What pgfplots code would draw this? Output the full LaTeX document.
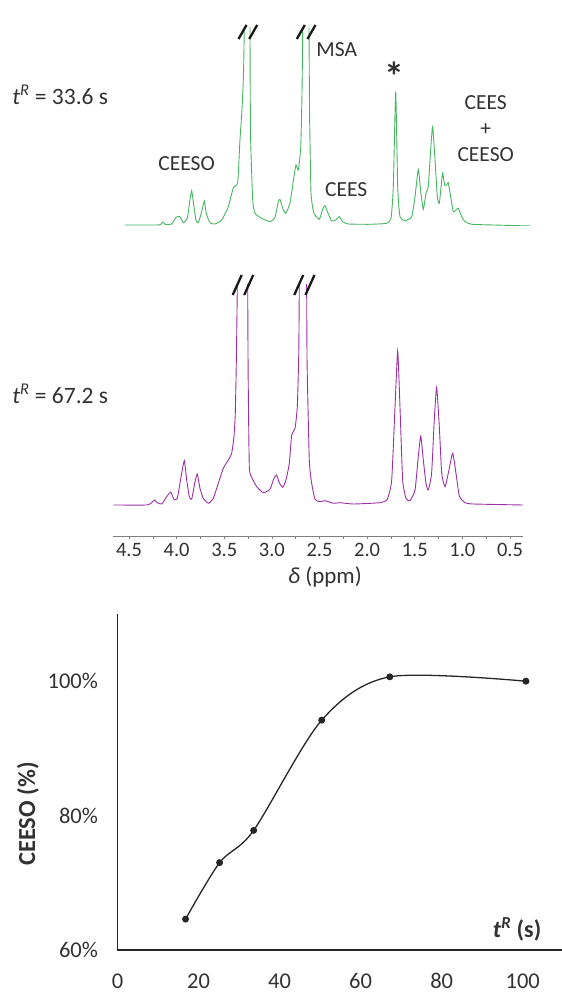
\documentclass[border=0pt]{standalone}
\usepackage{fontspec}
\setmainfont{Carlito}
\usepackage{pgfplots}
\pgfplotsset{compat=1.18}
\definecolor{nmrgreen}{RGB}{70,182,96}
\definecolor{nmrpurple}{RGB}{155,48,165}
\definecolor{txt}{RGB}{50,50,50}
\newcommand{\lbl}{\fontsize{21.5}{26}\selectfont}
\tikzset{brk/.style={line width=2.3pt, black!90}}

\begin{document}
\begin{tikzpicture}
\path[use as bounding box] (0pt,0pt) rectangle (562pt,994pt);

% t^R = 33.6 s spectrum
\begin{axis}[
  at={(125pt,768pt)}, anchor=south west,
  scale only axis, width=406pt, height=198pt,
  xmin=0.2795, xmax=4.542, x dir=reverse,
  ymin=-1, ymax=197,
  hide axis, clip mode=individual,
]
\addplot[nmrgreen, line width=0.9pt, smooth, tension=0.3] coordinates {
(4.542,0) (4.209,0) (4.167,0.5) (4.146,3) (4.122,0.7) (4.052,1) (4.007,7.7)
(3.965,8.3) (3.930,2.3) (3.888,6.7) (3.860,25) (3.842,34.3) (3.825,23.3)
(3.797,5) (3.772,2.3) (3.737,13.3) (3.709,24) (3.689,11.7) (3.650,2.3)
(3.597,1) (3.527,5) (3.457,18.3) (3.405,37.3) (3.359,42.3) (3.335,85)
(3.314,115) (3.298,150) (3.290,197) (3.284,300) (3.236,300) (3.230,197)
(3.224,90) (3.201,25) (3.177,11.7) (3.107,6.7) (3.020,3.3) (2.967,7.7)
(2.932,23.3) (2.915,25.7) (2.886,16.7) (2.855,11.7) (2.810,21.7) (2.768,48.3)
(2.747,60) (2.722,55) (2.697,78) (2.684,130) (2.676,197) (2.670,300)
(2.616,300) (2.610,197) (2.604,110) (2.589,31.7) (2.558,11.7) (2.502,5.7)
(2.467,15.7) (2.442,19.3) (2.417,13.3) (2.372,4) (2.330,5) (2.292,8.3)
(2.257,3.3) (2.198,1) (1.970,0.7) (1.795,1.7) (1.749,6.7) (1.725,38.3)
(1.700,133.3) (1.679,38.3) (1.655,8.3) (1.602,4.3) (1.532,8.3) (1.497,28.3)
(1.463,55.7) (1.437,33.3) (1.410,15.7) (1.382,31.7) (1.358,38.3) (1.333,75)
(1.312,98.3) (1.287,65) (1.263,28.3) (1.242,21.7) (1.224,38.3) (1.207,51.7)
(1.186,40) (1.165,40) (1.148,42.3) (1.123,28.3) (1.095,13.3) (1.067,15)
(1.043,16.7) (1.007,8.3) (0.972,3.3) (0.902,0.7) (0.675,0) (0.283,-1)
};
\node[font=\lbl, text=txt] at (axis cs:3.895,61) {CEESO};
\node[font=\lbl, text=txt] at (axis cs:2.319,175.7) {MSA};
\node[font=\lbl, text=txt] at (axis cs:2.219,35.3) {CEES};
\node[font=\bfseries\fontsize{40}{40}\selectfont, text=txt] at (axis cs:1.713,148.3) {*};
\node[font=\lbl, text=txt, align=center] at (axis cs:0.755,96.5) {CEES\\+\\CEESO};
\draw[brk] ([shift={(-4pt,-7pt)}]axis cs:3.308,193) -- ([shift={(4pt,7pt)}]axis cs:3.308,193);
\draw[brk] ([shift={(-4pt,-7pt)}]axis cs:3.196,193) -- ([shift={(4pt,7pt)}]axis cs:3.196,193);
\draw[brk] ([shift={(-4pt,-7pt)}]axis cs:2.696,193) -- ([shift={(4pt,7pt)}]axis cs:2.696,193);
\draw[brk] ([shift={(-4pt,-7pt)}]axis cs:2.584,193) -- ([shift={(4pt,7pt)}]axis cs:2.584,193);
\end{axis}

% t^R = 67.2 s spectrum with the ppm axis
\begin{axis}[
  at={(113pt,458pt)}, anchor=south west,
  scale only axis, width=410pt, height=251pt,
  xmin=0.3635, xmax=4.668, x dir=reverse,
  ymin=-31, ymax=220,
  axis x line=bottom, axis y line=none,
  axis line style={-, gray, line width=0.8pt},
  clip mode=individual,
  xtick={0.5,1,1.5,2,2.5,3,3.5,4,4.5},
  xticklabels={0.5,1.0,1.5,2.0,2.5,3.0,3.5,4.0,4.5},
  minor xtick={0.75,1.25,1.75,2.25,2.75,3.25,3.75,4.25},
  tick align=outside, major tick length=3pt, minor tick length=3pt,
  tick style={gray, line width=0.6pt},
  xticklabel style={font=\fontsize{20.5}{24}\selectfont, text=txt, yshift=-1pt},
  xlabel={\textit{δ} (ppm)},
  xlabel style={at={(axis description cs:0.517,-0.162)}, anchor=center, font=\fontsize{23}{26}\selectfont, text=txt},
]
\addplot[nmrpurple, line width=0.9pt, smooth, tension=0.3] coordinates {
(4.665,0) (4.314,0) (4.262,2.3) (4.234,5) (4.203,2.3) (4.157,1) (4.104,8.3)
(4.062,13) (4.028,5.7) (3.993,6.7) (3.947,31.7) (3.919,44.3) (3.894,25)
(3.867,8.3) (3.842,5.7) (3.807,23.3) (3.783,31) (3.755,16.7) (3.720,6.7)
(3.667,1.7) (3.615,6.7) (3.562,21.7) (3.510,36.7) (3.457,45) (3.422,51.7)
(3.398,68.3) (3.384,91.7) (3.372,150) (3.363,220) (3.357,320) (3.260,320)
(3.254,220) (3.249,130) (3.237,38.3) (3.212,27.7) (3.159,18.3) (3.090,12.3)
(3.020,15.7) (2.978,26.7) (2.950,30) (2.922,22.3) (2.886,17.7) (2.852,25)
(2.817,41.7) (2.792,70) (2.757,76.7) (2.733,98.3) (2.718,150) (2.712,220)
(2.707,320) (2.640,320) (2.635,220) (2.630,140) (2.607,45) (2.582,21.7)
(2.547,5.7) (2.495,3.3) (2.442,4.3) (2.355,1.7) (2.285,2.3) (2.145,1)
(1.865,2.3) (1.788,5.7) (1.742,25) (1.707,98.3) (1.679,154) (1.655,98.3)
(1.627,25) (1.592,6.7) (1.550,4.3) (1.497,15) (1.463,48.3) (1.437,69)
(1.410,45) (1.382,21.7) (1.358,15) (1.323,31.7) (1.295,85) (1.270,117.7)
(1.242,78.3) (1.217,31.7) (1.182,18.3) (1.148,31.7) (1.102,51.7) (1.067,31.7)
(1.032,9) (0.972,2.3) (0.885,1) (0.365,0)
};
\draw[brk] ([shift={(-4.5pt,-10pt)}]axis cs:3.364,220) -- ([shift={(4.5pt,10pt)}]axis cs:3.364,220);
\draw[brk] ([shift={(-4.5pt,-10pt)}]axis cs:3.243,220) -- ([shift={(4.5pt,10pt)}]axis cs:3.243,220);
\draw[brk] ([shift={(-4.5pt,-10pt)}]axis cs:2.718,220) -- ([shift={(4.5pt,10pt)}]axis cs:2.718,220);
\draw[brk] ([shift={(-4.5pt,-10pt)}]axis cs:2.600,220) -- ([shift={(4.5pt,10pt)}]axis cs:2.600,220);
\end{axis}

\node[font=\fontsize{23.5}{26}\selectfont, text=txt, anchor=base east] at (111.7pt,889pt) {\textit{t}\textsuperscript{\textit{R}} = 33.6 s};
\node[font=\fontsize{23.5}{26}\selectfont, text=txt, anchor=base east] at (111.7pt,590.7pt) {\textit{t}\textsuperscript{\textit{R}} = 67.2 s};

% CEESO conversion against residence time
\begin{axis}[
  at={(117.5pt,44pt)}, anchor=south west,
  scale only axis, width=444.5pt, height=336pt,
  xmin=0, xmax=109.7, ymin=60, ymax=110,
  axis x line=bottom, axis y line=left,
  axis line style={-, line width=1.2pt, black!85},
  major tick length=0pt,
  xtick={0,20,40,60,80,100}, xticklabels={0,20,40,60,80,100},
  ytick={60,80,100}, yticklabels={60\%,80\%,100\%},
  ticklabel style={font=\fontsize{22.5}{26}\selectfont, text=txt},
  xticklabel style={yshift=-20pt},
  yticklabel style={xshift=-16pt},
  ylabel={CEESO (\%)},
  ylabel style={at={(axis description cs:-0.2014,0.4048)}, anchor=center, font=\bfseries\fontsize{24.5}{28}\selectfont, text=txt},
  clip=false,
]
\addplot[black!85, line width=1.3pt, smooth, mark=*, mark size=2.8pt, mark options={fill=black!85}] coordinates {
(16.8,64.6) (25.2,73.0) (33.6,77.8) (50.4,94.2) (67.2,100.65) (100.8,100.0)
};
\node[font=\bfseries\fontsize{24}{28}\selectfont, text=txt] at (axis cs:98.6,63) {\textit{t}\textsuperscript{\textit{R}} (s)};
\end{axis}
\end{tikzpicture}
\end{document}
